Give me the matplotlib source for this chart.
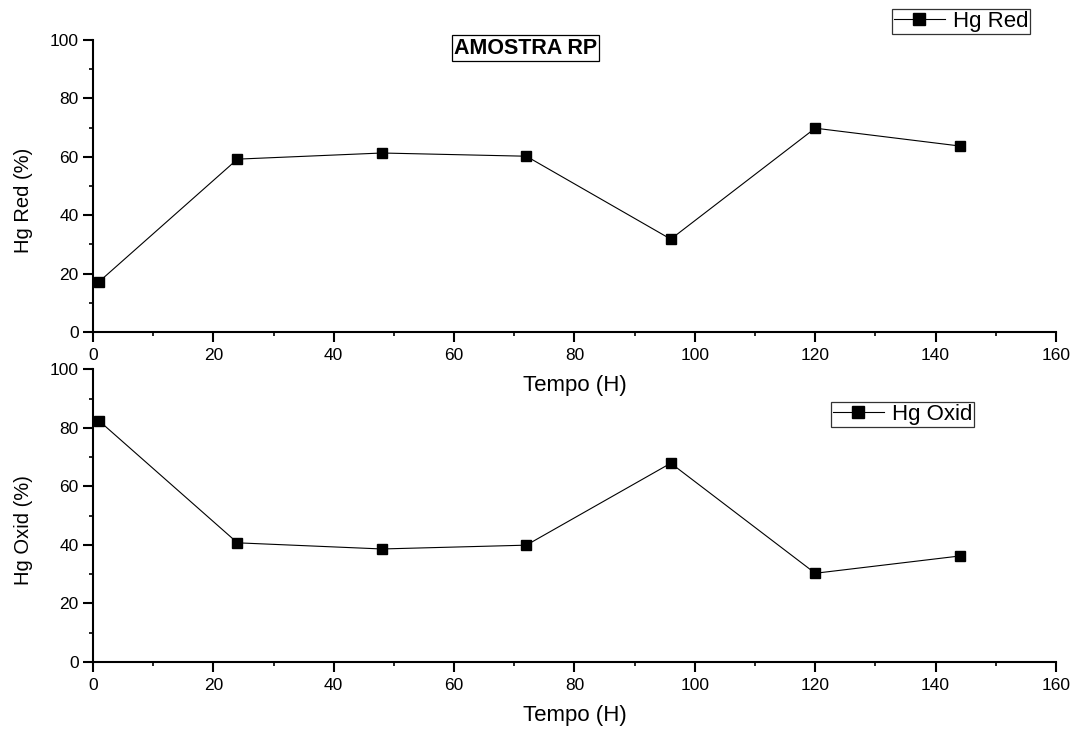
import matplotlib
matplotlib.use("Agg")
import matplotlib.pyplot as plt
from matplotlib.ticker import MultipleLocator

plt.rcParams['font.family'] = ['Liberation Sans', 'DejaVu Sans']

tempo = [1, 24, 48, 72, 96, 120, 144]
hg_red = [17.2, 59.2, 61.3, 60.2, 31.8, 69.8, 63.7]
hg_oxid = [82.4, 40.7, 38.6, 39.9, 67.9, 30.3, 36.2]
x_ticks = [0, 20, 40, 60, 80, 100, 120, 140, 160]
y_ticks = [0, 20, 40, 60, 80, 100]

fig = plt.figure(figsize=(10.76, 7.30), dpi=100)
ax1 = fig.add_axes([0.0864, 0.5452, 0.895, 0.4])
ax2 = fig.add_axes([0.0864, 0.0932, 0.895, 0.401])
ax2.patch.set_visible(False)
ax1.patch.set_visible(False)

def style(ax, ylabel):
    for s in ['top', 'right']:
        ax.spines[s].set_visible(False)
    for s in ['left', 'bottom']:
        ax.spines[s].set_linewidth(1.5)
    ax.set_xlim(0, 160)
    ax.set_ylim(0, 100)
    ax.set_xticks(x_ticks)
    ax.set_yticks(y_ticks)
    ax.xaxis.set_minor_locator(MultipleLocator(10))
    ax.yaxis.set_minor_locator(MultipleLocator(10))
    ax.tick_params(which='major', direction='out', length=7, width=1.5, labelsize=12.5)
    ax.tick_params(axis='y', which='major', pad=3.2)
    ax.tick_params(axis='x', which='major', pad=4.5)
    ax.tick_params(which='minor', direction='out', length=3, width=1.2)
    ax.set_xlabel('Tempo (H)', fontsize=16, labelpad=8.5)
    ax.set_ylabel(ylabel, fontsize=14.5)
    ax.yaxis.set_label_coords(-0.062, 0.452)

ax1.plot(tempo, hg_red, color='black', lw=0.8, marker='s', ms=7.5,
         mfc='black', mec='black', label='Hg Red', clip_on=False)
ax2.plot(tempo, hg_oxid, color='black', lw=0.8, marker='s', ms=7.5,
         mfc='black', mec='black', label='Hg Oxid', clip_on=False)

style(ax1, 'Hg Red (%)')
style(ax2, 'Hg Oxid (%)')

leg_kw = dict(bbox_transform=fig.transFigure, fontsize=16, frameon=True,
              fancybox=False, edgecolor='black', handlelength=2.3,
              markerscale=1.15, borderpad=0.08, handletextpad=0.36,
              borderaxespad=0)
leg1 = ax1.legend(loc='upper right', bbox_to_anchor=(1030/1076, 1 - 9/730), **leg_kw)
leg1.get_frame().set_linewidth(0.9)
leg2 = ax2.legend(loc='upper left', bbox_to_anchor=(831/1076, 1 - 402/730), **leg_kw)
leg2.get_frame().set_linewidth(0.9)

fig.text(525.5/1076, 1 - 48/730, 'AMOSTRA RP', fontsize=15.5, fontweight='bold',
         ha='center', va='center',
         bbox=dict(boxstyle='square,pad=0.1', fc='white', ec='black', lw=0.9))

fig.savefig('out.png', dpi=100)
